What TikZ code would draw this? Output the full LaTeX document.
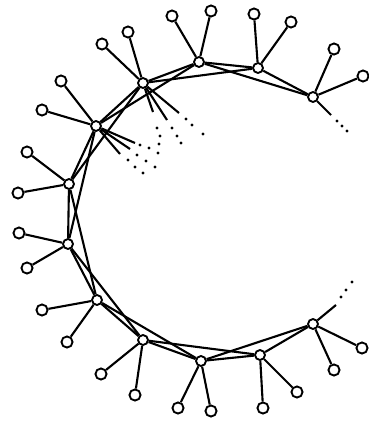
\documentclass[tikz,border=0pt]{standalone}
\usetikzlibrary{positioning}
\tikzset{
  ringnode/.style={circle,draw=black,fill=white,line width=1.6pt,
                   inner sep=0pt,minimum size=8.5pt},
  leafnode/.style={circle,draw=black,fill=white,line width=1.6pt,
                   inner sep=0pt,minimum size=9.5pt},
  bond/.style={line width=1.8pt,color=black},
  spoke/.style={line width=1.8pt,color=black},
  dotmark/.style={circle,fill=black,inner sep=0pt,minimum size=2.6pt}
}
\begin{document}
\begin{tikzpicture}[x=0.03cm,y=-0.03cm]

  \useasboundingbox (0,0) rectangle (369,422);

  % Ring
  \node[ringnode] (r1)  at (313,97)  {};
  \node[ringnode] (r2)  at (258,68)  {};
  \node[ringnode] (r3)  at (199,62)  {};
  \node[ringnode] (r4)  at (143,83)  {};
  \node[ringnode] (r5)  at (96,126)  {};
  \node[ringnode] (r6)  at (69,184)  {};
  \node[ringnode] (r7)  at (68,244)  {};
  \node[ringnode] (r8)  at (97,300)  {};
  \node[ringnode] (r9)  at (143,340) {};
  \node[ringnode] (r10) at (201,361) {};
  \node[ringnode] (r11) at (260,355) {};
  \node[ringnode] (r12) at (313,324) {};

  % Pendant leaves
  \node[leafnode] (l1a)  at (334,49)  {};
  \node[leafnode] (l1b)  at (363,76)  {};
  \node[leafnode] (l2a)  at (254,14)  {};
  \node[leafnode] (l2b)  at (291,22)  {};
  \node[leafnode] (l3a)  at (211,11)  {};
  \node[leafnode] (l3b)  at (172,16)  {};
  \node[leafnode] (l4a)  at (128,32)  {};
  \node[leafnode] (l4b)  at (102,44)  {};
  \node[leafnode] (l5a)  at (61,81)   {};
  \node[leafnode] (l5b)  at (42,110)  {};
  \node[leafnode] (l6a)  at (27,152)  {};
  \node[leafnode] (l6b)  at (18,193)  {};
  \node[leafnode] (l7a)  at (19,233)  {};
  \node[leafnode] (l7b)  at (27,268)  {};
  \node[leafnode] (l8a)  at (42,310)  {};
  \node[leafnode] (l8b)  at (67,342)  {};
  \node[leafnode] (l9a)  at (101,374) {};
  \node[leafnode] (l9b)  at (135,395) {};
  \node[leafnode] (l10a) at (178,408) {};
  \node[leafnode] (l10b) at (211,411) {};
  \node[leafnode] (l11a) at (263,408) {};
  \node[leafnode] (l11b) at (297,392) {};
  \node[leafnode] (l12a) at (334,370) {};
  \node[leafnode] (l12b) at (362,348) {};

  % Open spokes towards the inside
  \coordinate (s1)  at (331,115);
  \coordinate (s12) at (336,305);
  \coordinate (s4a) at (153,112);
  \coordinate (s4b) at (167,120);
  \coordinate (s4c) at (179,113);
  \coordinate (s5a) at (135,143);
  \coordinate (s5b) at (130,149);
  \coordinate (s5c) at (120,154);

  \node[dotmark] (d1a) at (337,121) {};
  \node[dotmark] (d1b) at (342,126) {};
  \node[dotmark] (d1c) at (347,131) {};
  \node[dotmark] (d12a) at (341,297) {};
  \node[dotmark] (d12b) at (346,290) {};
  \node[dotmark] (d12c) at (352,282) {};
  \node[dotmark] (d4a1) at (157,128) {};
  \node[dotmark] (d4a2) at (160,136) {};
  \node[dotmark] (d4a3) at (159,144) {};
  \node[dotmark] (d4b1) at (172,128) {};
  \node[dotmark] (d4b2) at (177,136) {};
  \node[dotmark] (d4b3) at (181,143) {};
  \node[dotmark] (d4c1) at (186,119) {};
  \node[dotmark] (d4c2) at (192,125) {};
  \node[dotmark] (d4c3) at (203,134) {};
  \node[dotmark] (d5a1) at (140,145) {};
  \node[dotmark] (d5a2) at (149,148) {};
  \node[dotmark] (d5a3) at (158,153) {};
  \node[dotmark] (d5b1) at (137,155) {};
  \node[dotmark] (d5b2) at (146,161) {};
  \node[dotmark] (d5b3) at (155,167) {};
  \node[dotmark] (d5c1) at (128,160) {};
  \node[dotmark] (d5c2) at (135,167) {};
  \node[dotmark] (d5c3) at (143,173) {};

  \draw[bond] (r1) -- (r2);   \draw[bond] (r1) -- (r3);
  \draw[bond] (r2) -- (r3);   \draw[bond] (r2) -- (r4);
  \draw[bond] (r3) -- (r4);   \draw[bond] (r3) -- (r5);
  \draw[bond] (r4) -- (r5);   \draw[bond] (r4) -- (r6);
  \draw[bond] (r5) -- (r6);   \draw[bond] (r5) -- (r7);
  \draw[bond] (r6) -- (r7);   \draw[bond] (r6) -- (r8);
  \draw[bond] (r7) -- (r8);   \draw[bond] (r7) -- (r9);
  \draw[bond] (r8) -- (r9);   \draw[bond] (r8) -- (r10);
  \draw[bond] (r9) -- (r10);  \draw[bond] (r9) -- (r11);
  \draw[bond] (r10) -- (r11); \draw[bond] (r10) -- (r12);
  \draw[bond] (r11) -- (r12);

  \draw[bond] (r1) -- (l1a);   \draw[bond] (r1) -- (l1b);
  \draw[bond] (r2) -- (l2a);   \draw[bond] (r2) -- (l2b);
  \draw[bond] (r3) -- (l3a);   \draw[bond] (r3) -- (l3b);
  \draw[bond] (r4) -- (l4a);   \draw[bond] (r4) -- (l4b);
  \draw[bond] (r5) -- (l5a);   \draw[bond] (r5) -- (l5b);
  \draw[bond] (r6) -- (l6a);   \draw[bond] (r6) -- (l6b);
  \draw[bond] (r7) -- (l7a);   \draw[bond] (r7) -- (l7b);
  \draw[bond] (r8) -- (l8a);   \draw[bond] (r8) -- (l8b);
  \draw[bond] (r9) -- (l9a);   \draw[bond] (r9) -- (l9b);
  \draw[bond] (r10) -- (l10a); \draw[bond] (r10) -- (l10b);
  \draw[bond] (r11) -- (l11a); \draw[bond] (r11) -- (l11b);
  \draw[bond] (r12) -- (l12a); \draw[bond] (r12) -- (l12b);

  \draw[spoke] (r1) -- (s1);
  \draw[spoke] (r12) -- (s12);
  \draw[spoke] (r4) -- (s4a);
  \draw[spoke] (r4) -- (s4b);
  \draw[spoke] (r4) -- (s4c);
  \draw[spoke] (r5) -- (s5a);
  \draw[spoke] (r5) -- (s5b);
  \draw[spoke] (r5) -- (s5c);

\end{tikzpicture}
\end{document}
